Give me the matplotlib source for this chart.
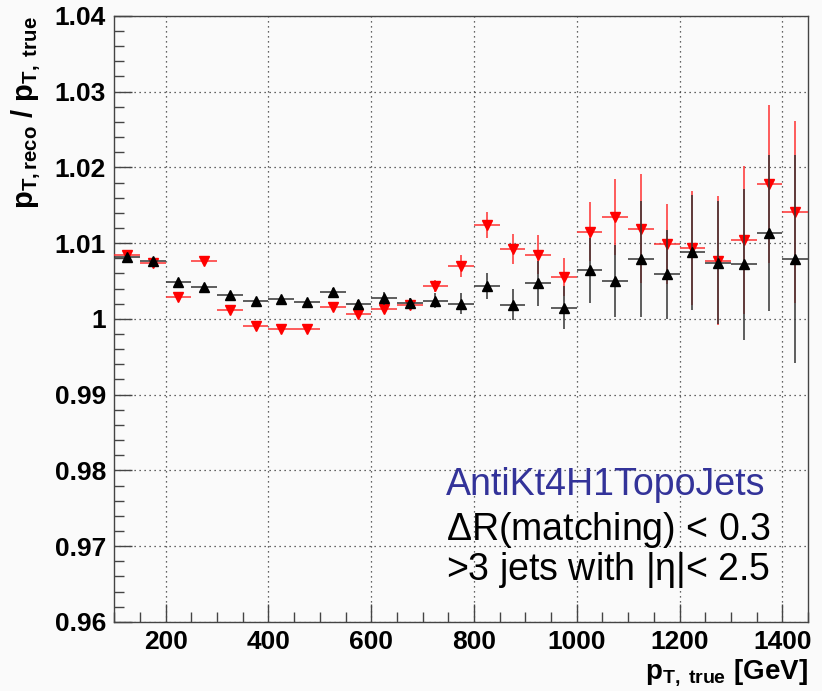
import matplotlib
matplotlib.use('Agg')
import matplotlib.pyplot as plt
from matplotlib.ticker import MultipleLocator, FuncFormatter

plt.rcParams['font.family'] = ['Liberation Sans', 'DejaVu Sans']
plt.rcParams['mathtext.fontset'] = 'custom'
plt.rcParams['mathtext.rm'] = 'Liberation Sans'
plt.rcParams['mathtext.it'] = 'Liberation Sans'
plt.rcParams['mathtext.bf'] = 'Liberation Sans:bold'

# bin centres of p_T,true [GeV], bin width 50
pt_true = [125, 175, 225, 275, 325, 375, 425, 475, 525, 575, 625, 675, 725, 775,
           825, 875, 925, 975, 1025, 1075, 1125, 1175, 1225, 1275, 1325, 1375, 1425]
bin_half = 25

# black (triangle up)
ratio_black = [1.0082, 1.0076, 1.0049, 1.0042, 1.0032, 1.0024, 1.0026, 1.0022, 1.0036,
               1.0020, 1.0027, 1.0021, 1.0024, 1.0020, 1.0043, 1.0019, 1.0047, 1.0015,
               1.0064, 1.0050, 1.0079, 1.0059, 1.0088, 1.0074, 1.0072, 1.0114, 1.0079]
err_black = [0.0003, 0.0003, 0.0003, 0.0003, 0.0003, 0.0003, 0.0004, 0.0004, 0.0005,
             0.0005, 0.0008, 0.0006, 0.0010, 0.0014, 0.0017, 0.0020, 0.0030, 0.0028,
             0.0043, 0.0047, 0.0077, 0.0059, 0.0076, 0.0081, 0.0100, 0.0103, 0.0137]

# red (triangle down)
ratio_red = [1.0084, 1.0074, 1.0029, 1.0076, 1.0012, 0.9990, 0.9987, 0.9987, 1.0016,
             1.0006, 1.0013, 1.0019, 1.0043, 1.0070, 1.0124, 1.0092, 1.0085, 1.0055,
             1.0115, 1.0135, 1.0119, 1.0099, 1.0094, 1.0077, 1.0104, 1.0178, 1.0141]
err_red = [0.0003, 0.0003, 0.0003, 0.0003, 0.0003, 0.0003, 0.0003, 0.0003, 0.0004,
           0.0004, 0.0005, 0.0005, 0.0008, 0.0015, 0.0017, 0.0020, 0.0026, 0.0025,
           0.0039, 0.0050, 0.0072, 0.0053, 0.0075, 0.0085, 0.0098, 0.0104, 0.0120]

bg = '#fafafa'
fig = plt.figure(figsize=(8.22, 6.91), dpi=100, facecolor=bg)
ax = fig.add_axes([0.139, 0.1, 0.844, 0.877], facecolor=bg)

ax.errorbar(pt_true, ratio_red, xerr=bin_half, yerr=err_red, fmt='v', color='red',
            ecolor='#ff3030', elinewidth=1.1, capsize=0, markersize=7.5, zorder=3)
ax.errorbar(pt_true, ratio_black, xerr=bin_half, yerr=err_black, fmt='^', color='black',
            ecolor='#333333', elinewidth=1.1, capsize=0, markersize=7.5, zorder=4)

ax.set_xlim(100, 1450)
ax.set_ylim(0.96, 1.04)
ax.xaxis.set_major_locator(MultipleLocator(200))
ax.xaxis.set_minor_locator(MultipleLocator(50))
ax.yaxis.set_major_locator(MultipleLocator(0.01))
ax.yaxis.set_minor_locator(MultipleLocator(0.002))
ax.yaxis.set_major_formatter(FuncFormatter(lambda v, p: f'{v:.2f}'.rstrip('0').rstrip('.')))

ax.tick_params(which='both', direction='in', top=False, right=False, color='#444444',
               width=1)
ax.tick_params(which='major', length=13, labelsize=19, pad=6)
ax.tick_params(which='minor', length=7)
for lab in ax.get_xticklabels() + ax.get_yticklabels():
    lab.set_fontweight('bold')

ax.grid(True, which='major', linestyle=(0, (1, 3)), color='#333333', linewidth=0.9)
for sp in ax.spines.values():
    sp.set_color('#444444')
    sp.set_linewidth(1)

ax.set_ylabel(r'$\mathbf{p_{T,reco}\ /\ p_{T,\ true}}$', fontsize=21, loc='top', labelpad=8)
ax.set_xlabel(r'$\mathbf{p_{T,\ true}}$ [GeV]', fontsize=20, loc='right', fontweight='bold',
              labelpad=2)

ax.text(746, 0.97676, 'AntiKt4H1TopoJets', fontsize=27, color='#333399')
ax.text(746, 0.97079, r'$\Delta$R(matching) < 0.3', fontsize=27, color='black')
ax.text(746, 0.96550, r'>3 jets with |$\eta$|< 2.5', fontsize=27, color='black')

fig.savefig('out.png', dpi=100, facecolor=bg)
